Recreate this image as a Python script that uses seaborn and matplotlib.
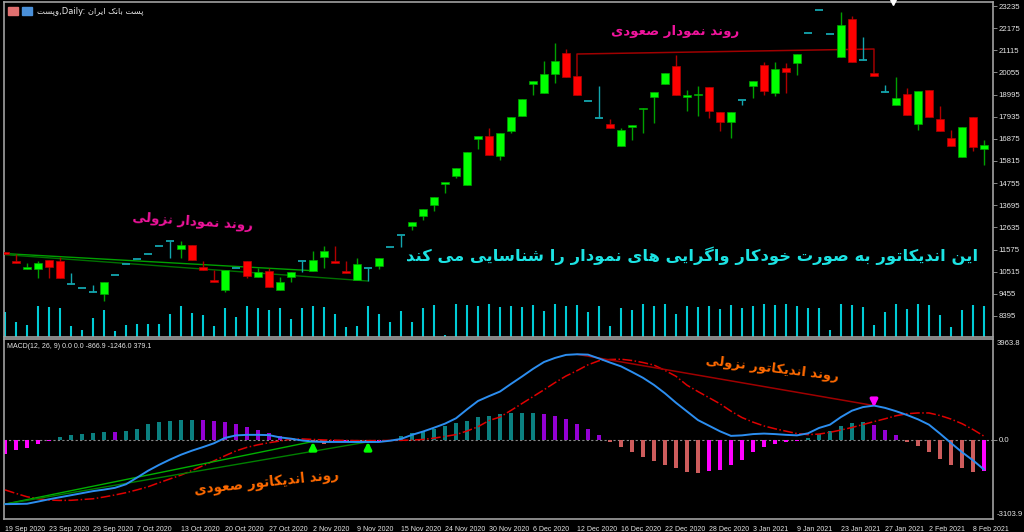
import numpy as np
import seaborn as sns
import matplotlib
matplotlib.use("Agg")
import matplotlib.pyplot as plt
from matplotlib.patches import Rectangle

# ---------------- data (daily bars, 19 Sep 2020 .. 9 Feb 2021) ----------------
date_labels = ['19 Sep 2020', '23 Sep 2020', '29 Sep 2020', '7 Oct 2020', '13 Oct 2020',
               '20 Oct 2020', '27 Oct 2020', '2 Nov 2020', '9 Nov 2020', '15 Nov 2020',
               '24 Nov 2020', '30 Nov 2020', '6 Dec 2020', '12 Dec 2020', '16 Dec 2020',
               '22 Dec 2020', '28 Dec 2020', '3 Jan 2021', '9 Jan 2021', '23 Jan 2021',
               '27 Jan 2021', '2 Feb 2021', '8 Feb 2021']
price_ticks = [23235, 22175, 21115, 20055, 18995, 17935, 16875, 15815,
               14755, 13695, 12635, 11575, 10515, 9455, 8395]

open_ = [11442, 11040, 10657, 10657, 11073, 11040, 9910, 9718, 9527, 9431,
         10355, 10882, 11121, 11346, 11729, 11983, 11600, 11792, 10753, 10060,
         9637, 10705, 11026, 10274, 10561, 9637, 10274, 11026, 10561, 11203,
         11026, 10547, 10116, 10705, 10801, 11682, 12256, 12716, 13180, 13707,
         14727, 15095, 14664, 16853, 17011, 16067, 17264, 17983, 19486, 19084,
         19979, 20970, 19883, 18686, 17887, 17585, 16546, 17427, 18303, 18892,
         19486, 20362, 18892, 18974, 19342, 18174, 17667, 18734, 19419, 20396,
         19055, 20252, 20491, 21928, 23043, 21894, 20779, 22598, 20635, 20041,
         19103, 18495, 19007, 17571, 19213, 17810, 16929, 15991, 17906, 16388]
high = [11442, 11346, 10915, 11026, 11073, 11231, 10437, 9718, 9862, 10006,
        10355, 10882, 11121, 11346, 11729, 11983, 11983, 11792, 11026, 10595,
        10595, 10705, 11026, 10676, 10676, 10274, 10485, 11026, 11504, 11758,
        11729, 11026, 11155, 10705, 11155, 11682, 12256, 12879, 13501, 14104,
        14775, 15478, 16230, 17011, 17408, 17140, 17906, 18768, 19644, 20602,
        21449, 21176, 19883, 18686, 19405, 17810, 17408, 17537, 18337, 19103,
        20013, 20889, 19213, 19405, 19342, 18174, 18174, 18734, 19644, 20554,
        20554, 20491, 20922, 21928, 23043, 21894, 22962, 22756, 21736, 20041,
        19438, 19850, 19294, 19165, 19213, 18447, 17298, 17427, 17906, 16819]
low = [11346, 10944, 10657, 10226, 10226, 10197, 9910, 9718, 9527, 9110,
       10355, 10882, 11121, 11346, 11729, 11155, 11155, 11088, 10595, 10035,
       9556, 10705, 10226, 10274, 9795, 9637, 10035, 10513, 10561, 10705,
       10915, 10465, 10116, 10068, 10628, 11682, 11710, 12510, 12989, 13420,
       14296, 15014, 14664, 16388, 16101, 15861, 17169, 17983, 18974, 19084,
       19534, 19850, 18959, 18686, 17887, 17408, 16546, 16819, 17140, 17619,
       19486, 18959, 18222, 17983, 17858, 17250, 16900, 18495, 18816, 18974,
       18926, 19084, 19931, 21928, 23043, 21894, 20779, 20568, 20635, 19898,
       19103, 18495, 18016, 17298, 17935, 17264, 16546, 15991, 16292, 15622]
close = [11346, 10944, 10724, 10915, 10753, 10197, 9910, 9718, 9527, 10006,
         10355, 10882, 11121, 11346, 11729, 11983, 11792, 11088, 10595, 10035,
         10595, 10705, 10322, 10485, 9795, 10035, 10485, 11026, 11073, 11519,
         10915, 10465, 10882, 10705, 11155, 11682, 12256, 12879, 13501, 14104,
         14775, 15478, 16230, 17011, 16101, 17140, 17906, 18768, 19644, 19979,
         20602, 19850, 18959, 18686, 17887, 17408, 17298, 17537, 18337, 19103,
         20013, 18959, 18974, 19036, 18208, 17667, 18174, 18734, 19644, 19180,
         20204, 20089, 20922, 21928, 23043, 21894, 22325, 20568, 20635, 19898,
         19103, 18816, 18016, 19165, 17935, 17264, 16546, 17427, 16498, 16580]
volume = [250, 150, 117, 307, 300, 294, 114, 74, 190, 274,
          57, 117, 134, 127, 134, 230, 314, 237, 217, 114,
          294, 197, 307, 290, 274, 294, 177, 287, 307, 300,
          230, 97, 114, 314, 230, 154, 260, 154, 290, 324,
          24, 330, 324, 314, 330, 304, 314, 297, 324, 257,
          330, 310, 324, 247, 310, 107, 290, 270, 330, 314,
          330, 234, 314, 304, 310, 284, 324, 290, 310, 330,
          324, 330, 310, 290, 290, 70, 330, 324, 304, 124,
          254, 330, 277, 330, 324, 224, 97, 274, 324, 314]

macd_main = [-2520, -2515, -2505, -2420, -2330, -2250, -2170, -2090, -2010, -1950,
             -1880, -1740, -1480, -1210, -980, -770, -580, -420, -280, -130,
             80, 180, 200, 200, 190, 100, 50, -20, -65, -78,
             -78, -78, -80, -80, -78, -30, 40, 200, 330, 480,
             640, 850, 1200, 1530, 1720, 1900, 2200, 2490, 2790, 3060,
             3220, 3340, 3364, 3350, 3200, 3040, 2890, 2670, 2440, 2160,
             1830, 1460, 1120, 780, 560, 340, 160, 180, 230, 250,
             230, 200, 180, 260, 470, 600, 900, 1150, 1290, 1350,
             1260, 1130, 980, 810, 600, 250, -120, -480, -800, -1160]
macd_signal = [-1960, -2100, -2230, -2310, -2360, -2375, -2370, -2340, -2310, -2240,
               -2160, -2070, -1960, -1840, -1680, -1530, -1380, -1200, -1010, -820,
               -620, -430, -290, -190, -110, -40, 30, 40, 20, 0,
               -10, -20, -25, -25, -25, -20, -15, -5, 20, 70,
               140, 210, 350, 520, 760, 900, 1160, 1430, 1700, 1970,
               2250, 2510, 2720, 2950, 3110, 3160, 3170, 3120, 3040, 2940,
               2730, 2500, 2150, 1900, 1660, 1420, 1130, 880, 700, 550,
               440, 345, 250, 210, 230, 300, 390, 490, 605, 720,
               830, 950, 1030, 1060, 1060, 960, 820, 640, 410, 150]
macd_hist = [-551, -407, -315, -158, -30, 105, 184, 250, 289, 315,
             310, 368, 446, 630, 696, 735, 788, 790, 775, 735,
             709, 630, 525, 407, 276, 144, 40, -20, -80, -160,
             -80, -50, -100, -80, -40, -10, 144, 263, 341, 446,
             565, 670, 762, 919, 925, 1024, 1064, 1066, 1068, 1037,
             959, 840, 630, 433, 184, -79, -276, -486, -670, -840,
             -972, -1103, -1260, -1300, -1234, -1195, -998, -788, -486, -263,
             -144, -79, -52, 79, 250, 368, 565, 670, 709, 604,
             407, 210, -79, -250, -486, -735, -998, -1103, -1260, -1234]

# ---------------- Persian text shaping (no bidi lib available) ----------------
ARABIC_FORMS = {
    0x0627: (0xFE8D, 0xFE8E),                    # alef
    0x0628: (0xFE8F, 0xFE90, 0xFE91, 0xFE92),    # beh
    0x067E: (0xFB56, 0xFB57, 0xFB58, 0xFB59),    # peh
    0x062A: (0xFE95, 0xFE96, 0xFE97, 0xFE98),    # teh
    0x062E: (0xFEA5, 0xFEA6, 0xFEA7, 0xFEA8),    # khah
    0x062F: (0xFEA9, 0xFEAA),                    # dal
    0x0631: (0xFEAD, 0xFEAE),                    # reh
    0x0632: (0xFEAF, 0xFEB0),                    # zain
    0x0633: (0xFEB1, 0xFEB2, 0xFEB3, 0xFEB4),    # seen
    0x0634: (0xFEB5, 0xFEB6, 0xFEB7, 0xFEB8),    # sheen
    0x0635: (0xFEB9, 0xFEBA, 0xFEBB, 0xFEBC),    # sad
    0x0639: (0xFEC9, 0xFECA, 0xFECB, 0xFECC),    # ain
    0x06A9: (0xFB8E, 0xFB8F, 0xFB90, 0xFB91),    # keheh
    0x06AF: (0xFB92, 0xFB93, 0xFB94, 0xFB95),    # gaf
    0x0644: (0xFEDD, 0xFEDE, 0xFEDF, 0xFEE0),    # lam
    0x0645: (0xFEE1, 0xFEE2, 0xFEE3, 0xFEE4),    # meem
    0x0646: (0xFEE5, 0xFEE6, 0xFEE7, 0xFEE8),    # noon
    0x0647: (0xFEE9, 0xFEEA, 0xFEEB, 0xFEEC),    # heh
    0x0648: (0xFEED, 0xFEEE),                    # waw
    0x06CC: (0xFBFC, 0xFBFD, 0xFBFE, 0xFBFF),    # farsi yeh
}


def fa(text):
    out = []
    n = len(text)
    for k, ch in enumerate(text):
        forms = ARABIC_FORMS.get(ord(ch))
        if forms is None:
            out.append(ch)
            continue
        prev = ARABIC_FORMS.get(ord(text[k - 1])) if k > 0 else None
        nxt = ARABIC_FORMS.get(ord(text[k + 1])) if k < n - 1 else None
        join_prev = prev is not None and len(prev) == 4
        join_next = len(forms) == 4 and nxt is not None
        if join_prev and join_next:
            cp = forms[3]
        elif join_prev:
            cp = forms[1]
        elif join_next:
            cp = forms[2]
        else:
            cp = forms[0]
        out.append(chr(cp))
    return ''.join(reversed(out))


# ---------------- style ----------------
sns.set_style("dark", {"axes.facecolor": "black", "figure.facecolor": "black"})
plt.rcParams['font.family'] = ['DejaVu Sans']

BULL, BULL_WICK = '#00FF00', '#00A000'
BEAR, BEAR_WICK = '#FF0000', '#B00000'
DOJI = '#13A6AE'
GRID = '#A0A0A0'
TXT = '#E6E6E6'

n = len(close)
idx = np.arange(n)
o, h, l, c = map(np.array, (open_, high, low, close))

fig = plt.figure(figsize=(10.24, 5.32), dpi=100, facecolor='black')
ax = fig.add_axes([4 / 1024, 1 - 337 / 532, 989 / 1024, 335 / 532])
axv = ax.twinx()
axm = fig.add_axes([4 / 1024, 1 - 519 / 532, 989 / 1024, 180 / 532])

# ---------------- price panel ----------------
axv.vlines(idx, 0, volume, color='#00CCD6', lw=1.5, zorder=1)
axv.set_ylim(0, 3350)
axv.set_yticks([])
for s in axv.spines.values():
    s.set_visible(False)
ax.set_zorder(axv.get_zorder() + 1)
ax.patch.set_visible(False)

w = 0.64
for i in range(n):
    if o[i] == c[i]:
        ax.vlines(i, l[i], h[i], color=DOJI, lw=1, zorder=3)
        ax.hlines(o[i], i - w / 2, i + w / 2, color=DOJI, lw=1.3, zorder=3)
        continue
    up = c[i] > o[i]
    ax.vlines(i, l[i], h[i], color=BULL_WICK if up else BEAR_WICK, lw=1, zorder=3)
    bottom = min(o[i], c[i])
    ax.bar(i, max(abs(c[i] - o[i]), 70), bottom=bottom, width=w,
           color=BULL if up else BEAR, edgecolor=BULL_WICK if up else BEAR_WICK,
           linewidth=0.5, zorder=4)

# divergence lines on price
ax.plot([0, 28], [11380, 10561], color='#00A000', lw=1, zorder=2)
ax.plot([0, 33], [11330, 10068], color='#007000', lw=1, zorder=2)
ax.plot([52, 52, 79, 79], [19883, 20937, 21176, 20041], color='#A00000', lw=1.1, zorder=2)

ax.set_xlim(-0.09, 89.82)
ax.set_ylim(7387, 23427)
ax.yaxis.tick_right()
ax.set_yticks(price_ticks)
ax.set_yticklabels([str(t) for t in price_ticks], fontsize=5.6, color=TXT,
                   fontfamily='Liberation Sans')
ax.tick_params(axis='y', length=3, width=0.6, color=GRID, pad=1)
ax.set_xticks([])
for s in ax.spines.values():
    s.set_color(GRID)
    s.set_linewidth(1.2)

ax.plot([80.7], [23427], marker='v', color='white', ms=5, clip_on=False, zorder=6)

ax.text(60.9, 22038, fa('روند نمودار صعودی'), color='#F0149C', fontsize=9.6,
        fontweight='bold', ha='center', va='center')
ax.text(17.1, 12893, fa('روند نمودار نزولی'), color='#F0149C', fontsize=9.6,
        fontweight='bold', ha='center', va='center', rotation=-4)
ax.text(62.5, 11265,
        fa('این اندیکاتور به صورت خودکار واگرایی های نمودار را شناسایی می کند'),
        color='#1CE3E3', fontsize=11.8, fontweight='bold', ha='center', va='center')

# title with two little toolbar icons
fig.patches.append(Rectangle((8 / 1024, 1 - 15 / 532), 10 / 1024, 8 / 532,
                             transform=fig.transFigure, color='#E07070'))
fig.patches.append(Rectangle((22 / 1024, 1 - 15 / 532), 10 / 1024, 8 / 532,
                             transform=fig.transFigure, color='#4A90D9'))
fig.text(37 / 1024, 1 - 11 / 532, fa('وپست') + ',Daily: ' + fa('پست بانک ایران'),
         color=TXT, fontsize=6, va='center', ha='left')

# ---------------- MACD panel ----------------
hist_colors = []
for i, v in enumerate(macd_hist):
    prev = macd_hist[i - 1] if i > 0 else v - 1
    if v >= 0:
        hist_colors.append('#0B8080' if v >= prev else '#9400D3')
    else:
        hist_colors.append('#CD5C5C' if v <= prev else '#FF00FF')
axm.bar(idx, macd_hist, width=0.3, color=hist_colors, edgecolor='none',
        linewidth=0, zorder=2)
axm.axhline(0, color='#8C8C8C', lw=0.8, ls=(0, (2, 2)), zorder=1)

sns.lineplot(x=idx, y=macd_signal, ax=axm, color='#E00000', lw=1.1,
             linestyle='-.', zorder=3)
sns.lineplot(x=idx, y=macd_main, ax=axm, color='#2C8EF0', lw=1.4, zorder=4)

axm.plot([0, 28], [-2520, -60], color='#00B000', lw=1, zorder=3)
axm.plot([0, 33], [-2520, -75], color='#008000', lw=1, zorder=3)
axm.plot([52, 79], [3364, 1350], color='#A00000', lw=1.1, zorder=3)

for xa in (28, 33):
    axm.annotate('', xy=(xa, 40), xytext=(xa, -500),
                 arrowprops=dict(arrowstyle='-|>', color='#00FF00', lw=2.4,
                                 mutation_scale=10), zorder=5)
axm.annotate('', xy=(79, 1170), xytext=(79, 1720),
             arrowprops=dict(arrowstyle='-|>', color='#FF00FF', lw=2.4,
                             mutation_scale=10), zorder=5)

axm.text(69.8, 2792, fa('روند اندیکاتور نزولی'), color='#FF6A00', fontsize=9.5,
         fontweight='bold', ha='center', va='center', rotation=-7)
axm.text(23.8, -1660, fa('روند اندیکاتور صعودی'), color='#FF6A00', fontsize=9.8,
         fontweight='bold', ha='center', va='center', rotation=6)

axm.set_xlim(-0.09, 89.82)
axm.set_ylim(-3103.9, 3963.8)
axm.yaxis.tick_right()
axm.set_yticks([0])
axm.set_yticklabels(['0.0'], fontsize=5.6, color=TXT, fontfamily='Liberation Sans')
axm.tick_params(axis='y', length=3, width=0.6, color=GRID, pad=1)
axm.text(1.004, 0.995, '3963.8', transform=axm.transAxes, fontsize=5.6, color=TXT,
         va='top', ha='left', fontfamily='Liberation Sans')
axm.text(1.004, 0.005, '-3103.9', transform=axm.transAxes, fontsize=5.6, color=TXT,
         va='bottom', ha='left', fontfamily='Liberation Sans')
axm.set_xticks(idx[::4])
axm.set_xticklabels(date_labels, fontsize=5, color=TXT, ha='left',
                    fontfamily='Liberation Sans')
axm.tick_params(axis='x', length=4, width=0.6, color=GRID, pad=1)
axm.set_xlabel('')
axm.set_ylabel('')
for s in axm.spines.values():
    s.set_color(GRID)
    s.set_linewidth(1.2)
axm.text(0.003, 0.975, 'MACD(12, 26, 9) 0.0 0.0 -866.9 -1246.0 379.1',
         transform=axm.transAxes, fontsize=5, color=TXT, va='top', ha='left',
         fontfamily='Liberation Sans')

fig.savefig('out.png', dpi=100, facecolor='black')
